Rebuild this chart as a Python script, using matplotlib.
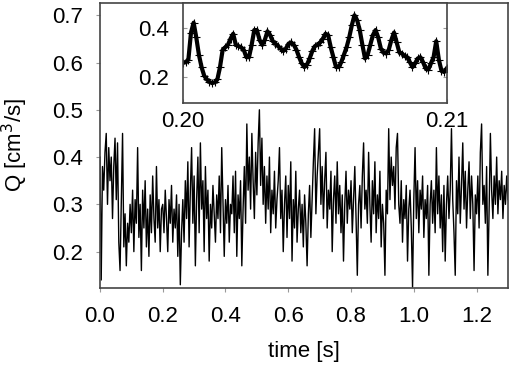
import matplotlib
matplotlib.use("Agg")
import matplotlib.pyplot as plt
import numpy as np

plt.rcParams['font.family'] = ['Liberation Sans', 'DejaVu Sans']

# flow rate Q [cm^3/s], one row per 0.1 s (4 ms steps)
q_main = [
    0.40, 0.14, 0.38, 0.33, 0.41, 0.45, 0.30, 0.42, 0.35, 0.40, 0.27, 0.38, 0.44, 0.31, 0.43, 0.22, 0.16, 0.30, 0.45, 0.21, 0.28, 0.17, 0.26, 0.22, 0.30,
    0.24, 0.33, 0.20, 0.31, 0.26, 0.42, 0.23, 0.30, 0.16, 0.33, 0.25, 0.35, 0.21, 0.29, 0.19, 0.32, 0.24, 0.36, 0.27, 0.22, 0.38, 0.25, 0.31, 0.20, 0.29,
    0.30, 0.24, 0.33, 0.27, 0.20, 0.31, 0.26, 0.34, 0.22, 0.29, 0.25, 0.32, 0.19, 0.30, 0.13, 0.24, 0.31, 0.22, 0.35, 0.27, 0.39, 0.21, 0.33, 0.42, 0.26,
    0.36, 0.17, 0.31, 0.40, 0.24, 0.43, 0.29, 0.35, 0.20, 0.38, 0.27, 0.33, 0.18, 0.30, 0.25, 0.34, 0.28, 0.22, 0.32, 0.27, 0.36, 0.24, 0.42, 0.30, 0.19,
    0.31, 0.26, 0.34, 0.22, 0.30, 0.28, 0.36, 0.24, 0.37, 0.19, 0.32, 0.27, 0.35, 0.17, 0.29, 0.38, 0.26, 0.47, 0.33, 0.40, 0.29, 0.45, 0.35, 0.27, 0.41,
    0.32, 0.43, 0.50, 0.34, 0.44, 0.30, 0.38, 0.26, 0.36, 0.29, 0.40, 0.24, 0.33, 0.28, 0.37, 0.25, 0.31, 0.35, 0.42, 0.27, 0.33, 0.20, 0.30, 0.36, 0.23,
    0.34, 0.27, 0.39, 0.18, 0.31, 0.25, 0.37, 0.22, 0.29, 0.33, 0.24, 0.30, 0.21, 0.32, 0.26, 0.17, 0.28, 0.34, 0.23, 0.31, 0.39, 0.46, 0.28, 0.36, 0.41,
    0.46, 0.30, 0.38, 0.27, 0.35, 0.41, 0.25, 0.33, 0.29, 0.37, 0.20, 0.31, 0.36, 0.26, 0.39, 0.28, 0.34, 0.24, 0.32, 0.18, 0.30, 0.37, 0.26, 0.33, 0.29,
    0.35, 0.24, 0.31, 0.38, 0.27, 0.15, 0.30, 0.34, 0.25, 0.36, 0.43, 0.29, 0.33, 0.26, 0.41, 0.30, 0.22, 0.35, 0.28, 0.39, 0.24, 0.32, 0.27, 0.37, 0.21,
    0.30, 0.26, 0.15, 0.33, 0.28, 0.46, 0.31, 0.40, 0.34, 0.38, 0.29, 0.42, 0.45, 0.30, 0.26, 0.35, 0.22, 0.31, 0.27, 0.34, 0.18, 0.29, 0.33, 0.25, 0.125,
    0.31, 0.42, 0.27, 0.35, 0.24, 0.33, 0.29, 0.36, 0.23, 0.31, 0.27, 0.34, 0.15, 0.30, 0.35, 0.26, 0.33, 0.24, 0.42, 0.28, 0.36, 0.25, 0.32, 0.20, 0.34,
    0.18, 0.30, 0.36, 0.27, 0.33, 0.46, 0.31, 0.24, 0.15, 0.35, 0.28, 0.40, 0.26, 0.34, 0.43, 0.29, 0.37, 0.25, 0.33, 0.39, 0.27, 0.36, 0.30, 0.16, 0.32,
    0.28, 0.36, 0.25, 0.41, 0.47, 0.30, 0.34, 0.26, 0.38, 0.15, 0.29, 0.45, 0.33, 0.27, 0.36, 0.30, 0.40, 0.28, 0.35, 0.31, 0.37, 0.27, 0.34, 0.30, 0.36, 0.31,
]
t_main = np.linspace(0.0, 1.3, len(q_main))

# zoomed window 0.20 - 0.21 s (0.1 ms steps)
q_zoom = [
    0.257, 0.26, 0.27, 0.38, 0.42, 0.36, 0.29, 0.24, 0.205, 0.19,
    0.18, 0.175, 0.178, 0.19, 0.24, 0.31, 0.32, 0.33, 0.355, 0.375,
    0.33, 0.325, 0.32, 0.31, 0.28, 0.28, 0.33, 0.39, 0.39, 0.35,
    0.33, 0.35, 0.385, 0.37, 0.345, 0.335, 0.325, 0.315, 0.305, 0.315,
    0.335, 0.34, 0.33, 0.31, 0.28, 0.255, 0.24, 0.25, 0.275, 0.305,
    0.325, 0.33, 0.34, 0.355, 0.375, 0.37, 0.32, 0.28, 0.24, 0.24,
    0.26, 0.29, 0.32, 0.36, 0.41, 0.45, 0.43, 0.39, 0.33, 0.275,
    0.29, 0.33, 0.37, 0.39, 0.36, 0.315, 0.30, 0.295, 0.31, 0.35,
    0.38, 0.34, 0.30, 0.295, 0.285, 0.28, 0.26, 0.24, 0.255, 0.275,
    0.28, 0.26, 0.235, 0.23, 0.255, 0.28, 0.345, 0.27, 0.225, 0.22,
    0.235,
]
t_zoom = np.linspace(0.20, 0.21, len(q_zoom))

spine_col = '#444444'
fs = 16

fig = plt.figure(figsize=(5.1, 3.66), dpi=100)
ax = fig.add_axes([0.196, 0.213, 0.800, 0.779])
ax.plot(t_main, q_main, color='black', linewidth=1.0)
ax.set_xlim(0, 1.3)
ax.set_ylim(0.123, 0.726)
ax.set_xticks([0.0, 0.2, 0.4, 0.6, 0.8, 1.0, 1.2])
ax.set_xticklabels(['0.0', '0.2', '0.4', '0.6', '0.8', '1.0', '1.2'])
ax.set_yticks([0.2, 0.3, 0.4, 0.5, 0.6, 0.7])
ax.tick_params(direction='out', length=3, width=0.8, color='#999999', labelsize=fs)
ax.tick_params(axis='x', pad=10)
ax.tick_params(axis='y', pad=9)
ax.set_xlabel('time [s]', fontsize=fs, labelpad=10)
ax.set_ylabel('Q [cm$^3$/s]', fontsize=fs, labelpad=16)
for s in ax.spines.values():
    s.set_color(spine_col)
    s.set_linewidth(1.2)

ins = fig.add_axes([0.359, 0.719, 0.517, 0.273])
ins.plot(t_zoom, q_zoom, color='black', linewidth=3.0, marker='+', markersize=6, markeredgewidth=0.8)
ins.set_xlim(0.20, 0.21)
ins.set_ylim(0.095, 0.50)
ins.set_xticks([0.20, 0.21])
ins.set_xticklabels(['0.20', '0.21'])
ins.set_yticks([0.2, 0.4])
ins.set_yticklabels(['0.2', '0.4'])
ins.tick_params(direction='in', length=3, width=0.8, color='#999999', labelsize=fs, right=True)
ins.tick_params(axis='y', pad=10)
ins.tick_params(axis='x', pad=6)
for s in ins.spines.values():
    s.set_color(spine_col)
    s.set_linewidth(1.2)

fig.savefig('out.png', dpi=100)
